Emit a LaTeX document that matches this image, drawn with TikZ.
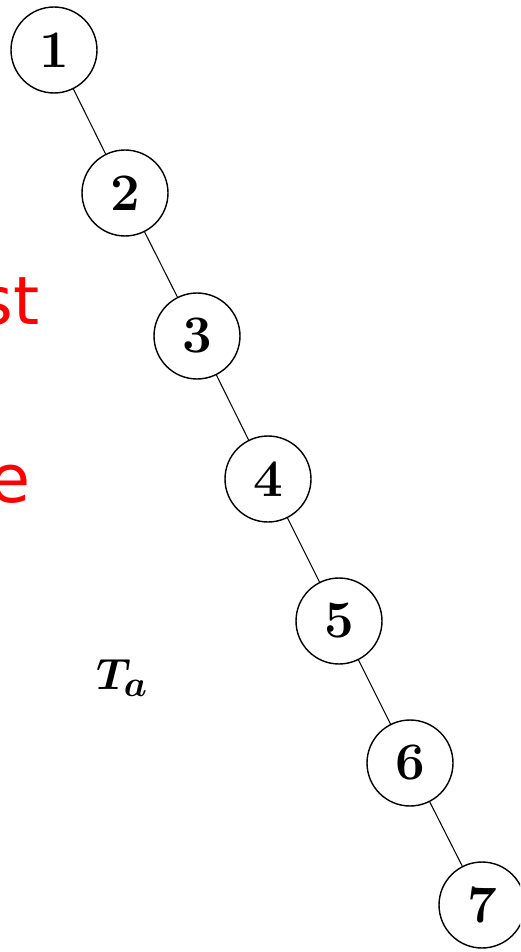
\documentclass[tikz,border=0pt]{standalone}
\usepackage{fontspec}
\newfontfamily\notefont{DejaVu Sans}

\begin{document}
\begin{tikzpicture}[x=0.02cm, y=-0.02cm, line join=round,
  vertex/.style={circle, draw, line width=0.8pt, minimum size=1.72cm, inner sep=0pt,
    font=\fontsize{30}{36}\selectfont\bfseries},
  note/.style={red, inner sep=0pt, anchor=base east, font=\notefont\fontsize{38}{44}\selectfont}]
  \clip (0,0) rectangle (520,952);
  \node[vertex] (N1) at (54,50) {1};
  \node[vertex] (N2) at (125,193) {2};
  \node[vertex] (N3) at (197,336) {3};
  \node[vertex] (N4) at (268,479) {4};
  \node[vertex] (N5) at (339,621) {5};
  \node[vertex] (N6) at (410,763) {6};
  \node[vertex] (N7) at (482,905) {7};
  \draw[line width=0.6pt] (N1) -- (N2);
  \draw[line width=0.6pt] (N2) -- (N3);
  \draw[line width=0.6pt] (N3) -- (N4);
  \draw[line width=0.6pt] (N4) -- (N5);
  \draw[line width=0.6pt] (N5) -- (N6);
  \draw[line width=0.6pt] (N6) -- (N7);
  % red words run on past the left edge, as in the source
  \node[note] (W1) at (40,325) {st};
  \node[note] (W2) at (31,502) {e};
  \node[font=\fontsize{28}{34}\selectfont\boldmath] (Ta) at (122,678) {$T_a$};
\end{tikzpicture}
\end{document}
